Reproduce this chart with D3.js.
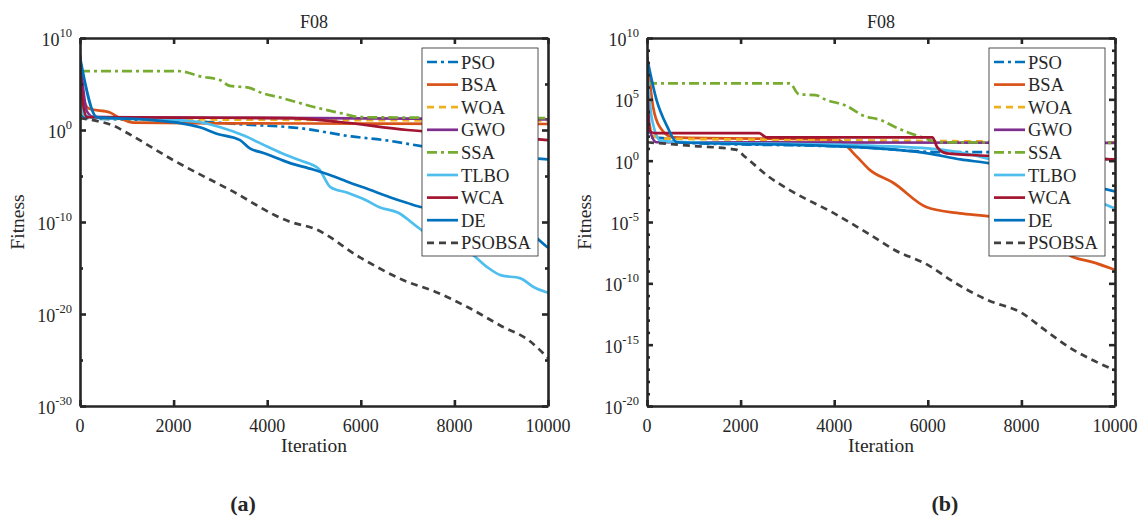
<!DOCTYPE html>
<html>
<head>
<meta charset="utf-8">
<script src="https://cdn.jsdelivr.net/npm/d3@7"></script>
<style>
  body { margin: 0; background: #fff; }
  svg text { font-family: "Liberation Serif", "DejaVu Serif", serif; fill: #262626; }
</style>
</head>
<body>
<script>
// Customizable Constants
const WIDTH = 1144;
const HEIGHT = 522;
const AXIS_COLOR = "#262626";
const LINE_WIDTH = 2.7;
const FONT = "Liberation Serif, DejaVu Serif, serif";

// Series names and styles (MATLAB default palette)
const names = ["PSO", "BSA", "WOA", "GWO", "SSA", "TLBO", "WCA", "DE", "PSOBSA"];
const colors = ["#0072BD", "#D95319", "#EDB120", "#7E2F8E", "#77AC30", "#4DBEEE", "#A2142F", "#0072BD", "#404040"];
const dashes = ["10,4,3,4", null, "7,5", null, "10,4,3,4", null, null, null, "7,5"];

// Panel (a): [iteration, log10(fitness)]
const psoA    = [[0,1.8],[150,1.3],[500,1.2],[1500,1.1],[2600,0.9],[3500,0.6],[4700,0.2],[5800,-0.7],[6500,-1.1],[7500,-1.9],[8500,-2.4],[9300,-2.9],[10000,-3.2]];
const bsaA    = [[0,7.0],[100,3.0],[200,2.3],[640,1.9],[850,1.3],[1150,0.8],[3000,0.72],[6000,0.7],[10000,0.65]];
const woaA    = [[0,2.0],[200,1.4],[1000,1.2],[5000,1.1],[10000,1.0]];
const gwoA    = [[0,8.0],[150,2.0],[300,1.4],[5000,1.3],[10000,1.15]];
const ssaA    = [[0,6.4],[2100,6.4],[2600,5.8],[3000,5.4],[3200,4.8],[3600,4.6],[3900,4.0],[4300,3.5],[5000,2.5],[5600,1.8],[6000,1.4],[7000,1.35],[10000,1.3]];
const tlboA   = [[0,3.0],[100,1.6],[300,1.35],[1500,1.2],[2500,0.9],[3000,0.3],[3500,-0.6],[4000,-1.8],[4300,-2.5],[4700,-3.3],[5100,-4.2],[5350,-6.2],[5700,-6.8],[6100,-7.6],[6400,-8.4],[6800,-9.0],[7200,-10.5],[7500,-11.6],[8000,-12.4],[8400,-13.6],[8700,-14.9],[9000,-15.8],[9400,-16.1],[9700,-17.1],[10000,-17.7]];
const wcaA    = [[0,8.2],[60,3.0],[150,1.4],[2000,1.35],[4500,1.3],[5500,0.9],[7000,0.0],[8000,-0.4],[9000,-0.7],[10000,-1.1]];
const deA     = [[0,7.9],[360,1.4],[1500,1.1],[2140,0.75],[2560,0.3],[2920,-0.4],[3420,-1.1],[3630,-2.0],[3920,-2.5],[4490,-3.6],[4980,-4.3],[5340,-4.9],[5700,-5.6],[6190,-6.5],[6620,-7.3],[6980,-7.9],[7320,-8.4],[8000,-8.6],[9000,-8.8],[9300,-9.5],[9600,-11.0],[10000,-12.8]];
const psobsaA = [[0,1.3],[430,0.9],[700,0.5],[1000,-0.3],[2000,-3.3],[3200,-6.5],[4500,-10.0],[5000,-10.7],[6000,-13.9],[6900,-16.3],[7600,-17.6],[8300,-19.3],[9000,-21.3],[9600,-22.9],[10000,-24.8]];

// Panel (b): [iteration, log10(fitness)]
const psoB    = [[0,3.0],[100,1.9],[400,1.8],[600,1.5],[4500,1.1],[6300,0.7],[7250,0.7],[8500,0.4],[10000,0.1]];
const bsaB    = [[0,8.6],[130,4.4],[280,2.7],[560,1.9],[4060,1.7],[4490,0.3],[4760,-0.75],[5260,-1.8],[5980,-3.8],[6690,-4.3],[7390,-4.6],[8000,-5.2],[8600,-6.6],[9100,-7.85],[9500,-8.25],[10000,-8.9]];
const woaB    = [[0,4.0],[150,2.0],[400,1.8],[3000,1.7],[6000,1.6],[10000,1.5]];
const gwoB    = [[0,7.0],[60,2.5],[200,1.5],[10000,1.45]];
const ssaB    = [[0,6.3],[3050,6.3],[3250,5.4],[3600,5.35],[3800,5.0],[4300,4.4],[4600,3.7],[5000,3.3],[5300,2.75],[5800,2.0],[6300,1.5],[10000,1.45]];
const tlboB   = [[0,7.5],[100,3.5],[300,1.6],[1000,1.5],[4000,1.3],[6000,1.0],[7300,0.15],[8500,-1.5],[9300,-2.8],[10000,-3.9]];
const wcaB    = [[0,7.4],[50,2.5],[150,2.25],[2400,2.25],[2550,1.9],[6100,1.9],[6200,1.1],[6400,0.6],[7300,0.4],[10000,0.1]];
const deB     = [[0,8.4],[200,5.0],[430,2.8],[640,1.5],[1500,1.4],[3000,1.3],[4500,1.1],[5300,0.9],[6000,0.6],[6700,0.1],[7300,-0.2],[8200,-0.9],[9000,-1.6],[10000,-2.5]];
const psobsaB = [[0,1.5],[1000,1.2],[1900,0.9],[2100,0.3],[2600,-1.3],[3050,-2.4],[4000,-4.3],[4750,-6.0],[5300,-7.3],[6000,-8.5],[6600,-10.0],[7300,-11.4],[8000,-12.4],[8500,-13.8],[9100,-15.4],[9600,-16.4],[10000,-17.1]];

const xTicks = [0, 2000, 4000, 6000, 8000, 10000];
const yLabelsA = [10, 0, -10, -20, -30];
const yMinorA = [5, -5, -15, -25];
const yLabelsB = [10, 5, 0, -5, -10, -15, -20];

var svg = d3.select("body").append("svg")
  .attr("width", WIDTH)
  .attr("height", HEIGHT)
  .attr("font-family", FONT);

var drawPanel = function(cfg)
{
  const x = d3.scaleLinear().domain([0, 10000]).range([cfg.left, cfg.right]);
  const y = d3.scaleLog().domain([Math.pow(10, cfg.yMin), Math.pow(10, cfg.yMax)]).range([cfg.bottom, cfg.top]);
  const g = svg.append("g").attr("id", cfg.id);

  // clip to plot box
  g.append("clipPath").attr("id", cfg.id + "clip")
    .append("rect")
    .attr("x", cfg.left).attr("y", cfg.top)
    .attr("width", cfg.right - cfg.left).attr("height", cfg.bottom - cfg.top);

  const line = d3.line()
    .curve(d3.curveMonotoneX)
    .x(d => x(d[0]))
    .y(d => y(Math.pow(10, d[1])));

  const lines = g.append("g").attr("clip-path", "url(#" + cfg.id + "clip)");
  for (let i = 0; i < cfg.series.length; i++)
  {
    lines.append("path")
      .attr("d", line(cfg.series[i]))
      .attr("fill", "none")
      .attr("stroke", colors[i])
      .attr("stroke-width", LINE_WIDTH)
      .attr("stroke-linejoin", "round")
      .attr("stroke-dasharray", dashes[i]);
  }

  // Axes, ticks pointing inward
  const majorVals = cfg.yLabels.map(e => Math.pow(10, e));
  const minorVals = cfg.yMinor.map(e => Math.pow(10, e));

  const styleAxis = function(sel)
  {
    sel.selectAll(".domain").attr("stroke", AXIS_COLOR).attr("stroke-width", 2.6);
    sel.selectAll(".tick line").attr("stroke", AXIS_COLOR).attr("stroke-width", 2.6);
    sel.selectAll(".tick text").remove();
  };

  g.append("g").attr("transform", "translate(0," + cfg.bottom + ")")
    .call(d3.axisBottom(x).tickValues(xTicks).tickSize(-6).tickSizeOuter(0)).call(styleAxis);
  g.append("g").attr("transform", "translate(0," + cfg.top + ")")
    .call(d3.axisTop(x).tickValues(xTicks).tickSize(-6).tickSizeOuter(0)).call(styleAxis);
  g.append("g").attr("transform", "translate(" + cfg.left + ",0)")
    .call(d3.axisLeft(y).tickValues(majorVals).tickSize(-6).tickSizeOuter(0)).call(styleAxis);
  g.append("g").attr("transform", "translate(" + cfg.right + ",0)")
    .call(d3.axisRight(y).tickValues(majorVals).tickSize(-6).tickSizeOuter(0)).call(styleAxis);
  g.append("g").attr("transform", "translate(" + cfg.left + ",0)")
    .call(d3.axisLeft(y).tickValues(minorVals).tickSize(-3).tickSizeOuter(0)).call(styleAxis)
    .select(".domain").remove();
  g.append("g").attr("transform", "translate(" + cfg.right + ",0)")
    .call(d3.axisRight(y).tickValues(minorVals).tickSize(-3).tickSizeOuter(0)).call(styleAxis)
    .select(".domain").remove();

  // x tick labels
  g.selectAll(".xlab").data(xTicks).enter().append("text")
    .attr("x", d => x(d))
    .attr("y", cfg.bottom + 26)
    .attr("text-anchor", "middle")
    .attr("font-size", 18)
    .text(d => d);

  // y tick labels 10^n
  const yl = g.selectAll(".ylab").data(cfg.yLabels).enter().append("text")
    .attr("x", cfg.left - 8)
    .attr("y", d => y(Math.pow(10, d)) + 8)
    .attr("text-anchor", "end")
    .attr("font-size", 18);
  yl.append("tspan").text("10");
  yl.append("tspan").attr("dy", -9).attr("font-size", 12.5).text(d => d < 0 ? "-" + (-d) : d);

  // title and axis labels
  g.append("text")
    .attr("x", (cfg.left + cfg.right) / 2).attr("y", 28)
    .attr("text-anchor", "middle").attr("font-size", 18).text("F08");
  g.append("text")
    .attr("x", (cfg.left + cfg.right) / 2).attr("y", cfg.bottom + 46)
    .attr("text-anchor", "middle").attr("font-size", 19.5).text("Iteration");
  g.append("text")
    .attr("transform", "translate(" + (cfg.left - 56) + "," + ((cfg.top + cfg.bottom) / 2) + ") rotate(-90)")
    .attr("text-anchor", "middle").attr("font-size", 19.5).text("Fitness");
  g.append("text")
    .attr("x", cfg.tagX).attr("y", 511)
    .attr("text-anchor", "middle").attr("font-size", 22).attr("font-weight", "bold").text(cfg.tag);

  // Legend
  const lx = cfg.right - 126;
  const ly = cfg.top + 10;
  const leg = g.append("g").attr("transform", "translate(" + lx + "," + ly + ")");
  leg.append("rect")
    .attr("width", 116).attr("height", 208)
    .attr("fill", "#fff").attr("stroke", AXIS_COLOR).attr("stroke-width", 0.8);
  for (let i = 0; i < names.length; i++)
  {
    const cy = 14 + i * 22.6;
    leg.append("line")
      .attr("x1", 5).attr("x2", 36).attr("y1", cy).attr("y2", cy)
      .attr("stroke", colors[i]).attr("stroke-width", LINE_WIDTH)
      .attr("stroke-dasharray", dashes[i]);
    leg.append("text")
      .attr("x", 39).attr("y", cy + 6.5)
      .attr("font-size", 18.5).text(names[i]);
  }
}

drawPanel({
  id: "panelA", left: 80, right: 548, top: 38, bottom: 406,
  yMin: -30, yMax: 10, yLabels: yLabelsA, yMinor: yMinorA,
  series: [psoA, bsaA, woaA, gwoA, ssaA, tlboA, wcaA, deA, psobsaA],
  tag: "(a)", tagX: 243
});

drawPanel({
  id: "panelB", left: 647, right: 1115, top: 38, bottom: 406,
  yMin: -20, yMax: 10, yLabels: yLabelsB,
  yMinor: d3.range(-19, 10).filter(e => e % 5 !== 0),
  series: [psoB, bsaB, woaB, gwoB, ssaB, tlboB, wcaB, deB, psobsaB],
  tag: "(b)", tagX: 945
});
</script>
</body>
</html>
